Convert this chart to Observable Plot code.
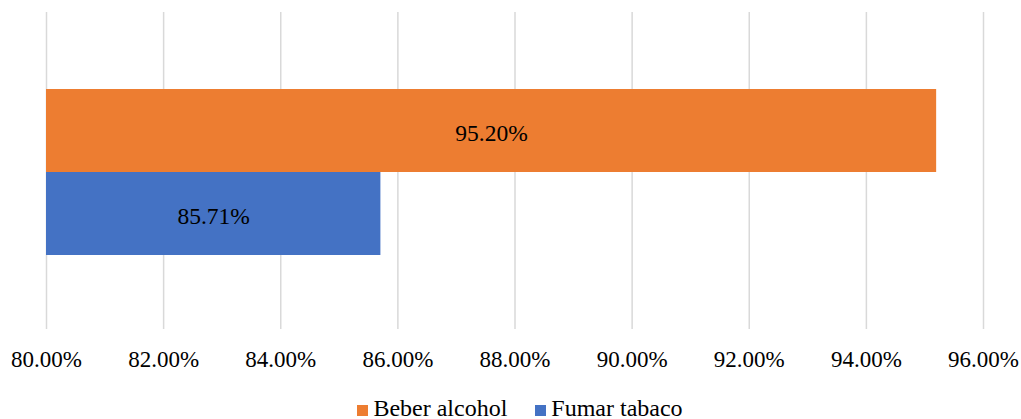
<!DOCTYPE html>
<html>
<head>
<meta charset="utf-8">
<script src="https://cdn.jsdelivr.net/npm/d3@7"></script>
<script src="https://cdn.jsdelivr.net/npm/@observablehq/plot@0.6"></script>
<style>
  html, body { margin: 0; padding: 0; background: #fff; }
  body { width: 1021px; font-family: "Liberation Serif", "Times New Roman", serif; }
  #legend {
    display: flex; justify-content: center; align-items: center;
    padding-left: 19px; height: 31px; margin-top: 11px;
    font-family: "Liberation Serif", "Times New Roman", serif;
    font-size: 24px; color: #000; gap: 28px;
  }
  .item { display: flex; align-items: center; }
  .swatch { width: 11px; height: 11px; margin-right: 5px; margin-top: 3px; }
  svg text { font-family: "Liberation Serif", "Times New Roman", serif; }
</style>
</head>
<body>
<div id="chart"></div>
<div id="legend"></div>
<script>
// Habits and their share of respondents (%)
const categories = ["Beber alcohol", "Fumar tabaco"];
const values = [95.20, 85.71];
const colors = ["#ED7D31", "#4472C4"];
const xDomain = [80, 96];
const tickValues = [80, 82, 84, 86, 88, 90, 92, 94, 96];

const rows = categories.map((c, i) => ({category: c, value: values[i], color: colors[i]}));

const fmt = v => v.toFixed(2) + "%";
const serif = "Liberation Serif, Times New Roman, serif";

const chart = Plot.plot({
  width: 1021,
  height: 382,
  marginTop: 12,
  marginBottom: 53,
  marginLeft: 46,
  marginRight: 38,
  style: {fontFamily: serif, fontSize: "23px", color: "#000", background: "#fff"},
  x: {domain: xDomain, ticks: tickValues, tickFormat: fmt, label: null},
  y: {domain: categories, range: [88, 255.5], padding: 0, axis: null},
  marks: [
    Plot.gridX({ticks: tickValues, stroke: "#d9d9d9", strokeOpacity: 1, strokeWidth: 1.5}),
    Plot.barX(rows, {x1: () => xDomain[0], x2: "value", y: "category", fill: "color"}),
    Plot.text(rows, {
      x: d => (xDomain[0] + d.value) / 2,
      y: "category",
      text: d => fmt(d.value),
      fill: "#000",
      fontFamily: serif,
      fontSize: 23.5,
      dy: 2
    }),
    Plot.axisX({ticks: tickValues, tickFormat: fmt, tickSize: 0, tickPadding: 21, fontSize: 23, fontFamily: serif, fill: "#000", label: null})
  ]
});
document.getElementById("chart").appendChild(chart);

const legend = document.getElementById("legend");
rows.forEach(r => {
  const item = document.createElement("div");
  item.className = "item";
  const sw = document.createElement("span");
  sw.className = "swatch";
  sw.style.background = r.color;
  const label = document.createElement("span");
  label.textContent = r.category;
  item.appendChild(sw);
  item.appendChild(label);
  legend.appendChild(item);
});
</script>
</body>
</html>
